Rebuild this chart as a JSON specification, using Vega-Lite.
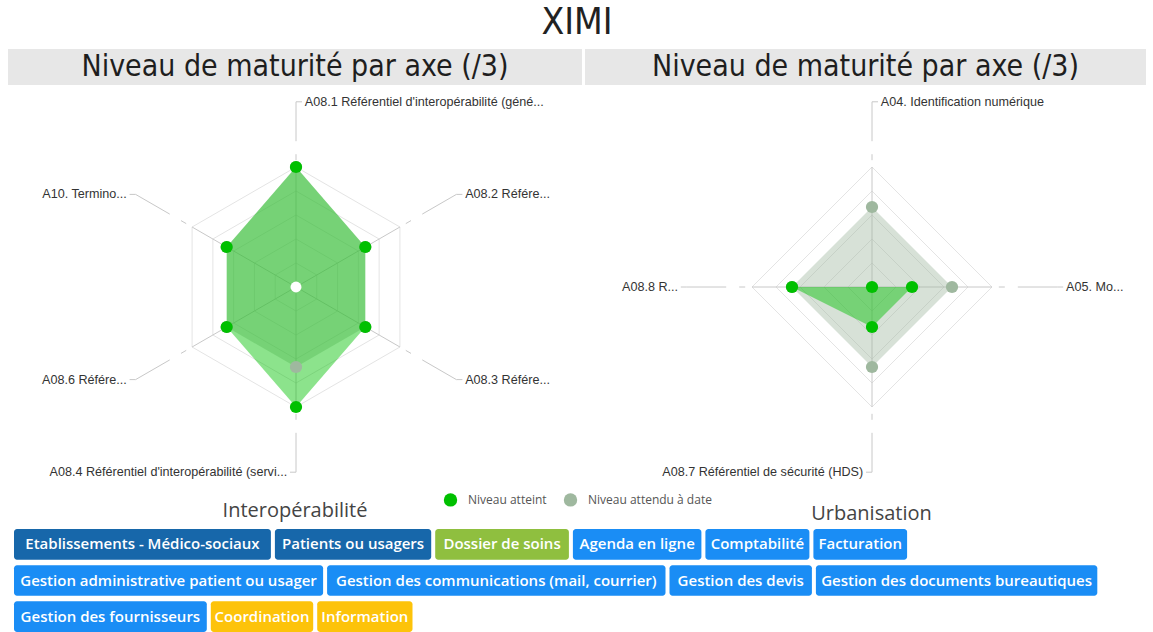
{
  "$schema": "https://vega.github.io/schema/vega-lite/v6.json",
  "padding": {"left": 8, "right": 7, "top": 4, "bottom": 0},
  "background": "white",
  "title": {"text": "XIMI", "font": "'Liberation Sans Narrow', 'DejaVu Sans Condensed', sans-serif", "fontSize": 37, "fontWeight": "normal", "color": "#222", "anchor": "middle", "offset": 7},
  "datasets": {
    "interop": [
      {"axe": "A08.1 Référentiel d'interopérabilité (géné...", "ordre": 0, "serie": "Niveau atteint", "valeur": 3},
      {"axe": "A08.2 Référe...", "ordre": 1, "serie": "Niveau atteint", "valeur": 2},
      {"axe": "A08.3 Référe...", "ordre": 2, "serie": "Niveau atteint", "valeur": 2},
      {"axe": "A08.4 Référentiel d'interopérabilité (servi...", "ordre": 3, "serie": "Niveau atteint", "valeur": 3},
      {"axe": "A08.6 Référe...", "ordre": 4, "serie": "Niveau atteint", "valeur": 2},
      {"axe": "A10. Termino...", "ordre": 5, "serie": "Niveau atteint", "valeur": 2},
      {"axe": "A08.1 Référentiel d'interopérabilité (géné...", "ordre": 0, "serie": "Niveau attendu à date", "valeur": 3},
      {"axe": "A08.2 Référe...", "ordre": 1, "serie": "Niveau attendu à date", "valeur": 2},
      {"axe": "A08.3 Référe...", "ordre": 2, "serie": "Niveau attendu à date", "valeur": 2},
      {"axe": "A08.4 Référentiel d'interopérabilité (servi...", "ordre": 3, "serie": "Niveau attendu à date", "valeur": 2},
      {"axe": "A08.6 Référe...", "ordre": 4, "serie": "Niveau attendu à date", "valeur": 2},
      {"axe": "A10. Termino...", "ordre": 5, "serie": "Niveau attendu à date", "valeur": 2}
    ],
    "urba": [
      {"axe": "A04. Identification numérique", "ordre": 0, "serie": "Niveau atteint", "valeur": 0},
      {"axe": "A05. Mo...", "ordre": 1, "serie": "Niveau atteint", "valeur": 1},
      {"axe": "A08.7 Référentiel de sécurité (HDS)", "ordre": 2, "serie": "Niveau atteint", "valeur": 1},
      {"axe": "A08.8 R...", "ordre": 3, "serie": "Niveau atteint", "valeur": 2},
      {"axe": "A04. Identification numérique", "ordre": 0, "serie": "Niveau attendu à date", "valeur": 2},
      {"axe": "A05. Mo...", "ordre": 1, "serie": "Niveau attendu à date", "valeur": 2},
      {"axe": "A08.7 Référentiel de sécurité (HDS)", "ordre": 2, "serie": "Niveau attendu à date", "valeur": 2},
      {"axe": "A08.8 R...", "ordre": 3, "serie": "Niveau attendu à date", "valeur": 2}
    ],
    "grille": [{"niveau": 0.6}, {"niveau": 1.2}, {"niveau": 1.8}, {"niveau": 2.4}, {"niveau": 3}],
    "etiquettes": [
      {"libelle": "Etablissements - Médico-sociaux", "categorie": "public", "ordre": 1},
      {"libelle": "Patients ou usagers", "categorie": "public", "ordre": 2},
      {"libelle": "Dossier de soins", "categorie": "metier", "ordre": 3},
      {"libelle": "Agenda en ligne", "categorie": "fonctionnalite", "ordre": 4},
      {"libelle": "Comptabilité", "categorie": "fonctionnalite", "ordre": 5},
      {"libelle": "Facturation", "categorie": "fonctionnalite", "ordre": 6},
      {"libelle": "Gestion administrative patient ou usager", "categorie": "fonctionnalite", "ordre": 7},
      {"libelle": "Gestion des communications (mail, courrier)", "categorie": "fonctionnalite", "ordre": 8},
      {"libelle": "Gestion des devis", "categorie": "fonctionnalite", "ordre": 9},
      {"libelle": "Gestion des documents bureautiques", "categorie": "fonctionnalite", "ordre": 10},
      {"libelle": "Gestion des fournisseurs", "categorie": "fonctionnalite", "ordre": 11},
      {"libelle": "Coordination", "categorie": "usage", "ordre": 12},
      {"libelle": "Information", "categorie": "usage", "ordre": 13}
    ]
  },
  "spacing": 2,
  "vconcat": [
    {
      "hconcat": [
        {"width": 574, "height": 36, "view": {"fill": "#e7e7e7", "stroke": null},
         "data": {"values": [{"titre": "Niveau de maturité par axe (/3)"}]},
         "mark": {"type": "text", "font": "'Liberation Sans Narrow', 'DejaVu Sans Condensed', sans-serif", "fontSize": 30, "color": "#1e1e1e"},
         "encoding": {"text": {"field": "titre", "type": "nominal"}}},
        {"width": 561, "height": 36, "view": {"fill": "#e7e7e7", "stroke": null},
         "data": {"values": [{"titre": "Niveau de maturité par axe (/3)"}]},
         "mark": {"type": "text", "font": "'Liberation Sans Narrow', 'DejaVu Sans Condensed', sans-serif", "fontSize": 30, "color": "#1e1e1e"},
         "encoding": {"text": {"field": "titre", "type": "nominal"}}}
      ],
      "spacing": 3
    },
    {
      "spacing": 5,
      "vconcat": [
        {
          "hconcat": [
            {
              "width": 574, "height": 400,
              "data": {"name": "interop"},
              "title": {"text": "Interopérabilité", "orient": "bottom", "anchor": "middle", "font": "Open Sans", "fontSize": 20, "fontWeight": "normal", "color": "#444", "offset": 14},
              "transform": [
                {"joinaggregate": [{"op": "count", "as": "n"}], "groupby": ["serie"]},
                {"calculate": "0", "as": "o"},
                {"calculate": "2*PI*datum.ordre/datum.n", "as": "a"},
                {"calculate": "datum.valeur*sin(datum.a)", "as": "px"},
                {"calculate": "datum.valeur*cos(datum.a)", "as": "py"},
                {"calculate": "3*sin(datum.a)", "as": "ex"},
                {"calculate": "3*cos(datum.a)", "as": "ey"},
                {"calculate": "3.17*sin(datum.a)", "as": "dx0"},
                {"calculate": "3.17*cos(datum.a)", "as": "dy0"},
                {"calculate": "4.63*sin(datum.a)", "as": "lx"},
                {"calculate": "4.63*cos(datum.a)", "as": "ly"},
                {"calculate": "2*datum.ordre < datum.n ? 1 : -1", "as": "sens"},
                {"calculate": "datum.lx + datum.sens*0.15", "as": "sx"},
                {"calculate": "datum.lx + datum.sens*0.22", "as": "tx"}
              ],
              "layer": [
                {"data": {"name": "grille"},
                 "transform": [{"calculate": "0", "as": "o"}],
                 "mark": {"type": "point", "shape": "M0,-1L0.866,-0.5L0.866,0.5L0,1L-0.866,0.5L-0.866,-0.5Z", "filled": false, "stroke": "#e4e4e4", "strokeWidth": 1, "opacity": 1},
                 "encoding": {
                   "x": {"field": "o", "type": "quantitative", "scale": {"domain": [-7.2, 7.15], "nice": false, "zero": false}, "axis": null},
                   "y": {"field": "o", "type": "quantitative", "scale": {"domain": [-5, 5], "nice": false, "zero": false}, "axis": null},
                   "size": {"field": "niveau", "type": "quantitative", "scale": {"type": "pow", "exponent": 2, "domain": [0, 3], "range": [0, 57600]}, "legend": null}}},
                {"transform": [{"filter": "datum.serie == 'Niveau atteint'"}],
                 "mark": {"type": "rule", "stroke": "#c8c8c8", "strokeWidth": 1},
                 "encoding": {"x": {"field": "o", "type": "quantitative", "axis": null}, "y": {"field": "o", "type": "quantitative", "axis": null}, "x2": {"field": "ex"}, "y2": {"field": "ey"}}},
                {"transform": [{"filter": "datum.serie == 'Niveau atteint'"}],
                 "mark": {"type": "rule", "stroke": "#c8c8c8", "strokeWidth": 1, "strokeDash": [6, 13, 300]},
                 "encoding": {"x": {"field": "dx0", "type": "quantitative", "axis": null}, "y": {"field": "dy0", "type": "quantitative", "axis": null}, "x2": {"field": "lx"}, "y2": {"field": "ly"}}},
                {"transform": [{"filter": "datum.serie == 'Niveau atteint'"}],
                 "mark": {"type": "rule", "stroke": "#c8c8c8", "strokeWidth": 1},
                 "encoding": {"x": {"field": "lx", "type": "quantitative", "axis": null}, "y": {"field": "ly", "type": "quantitative", "axis": null}, "x2": {"field": "sx"}}},
                {"transform": [{"filter": "datum.serie == 'Niveau atteint' && datum.sens == 1"}],
                 "mark": {"type": "text", "align": "left", "baseline": "middle", "font": "'Liberation Sans', Arial, sans-serif", "fontSize": 12.6, "color": "#333"},
                 "encoding": {"x": {"field": "tx", "type": "quantitative", "axis": null}, "y": {"field": "ly", "type": "quantitative", "axis": null}, "text": {"field": "axe", "type": "nominal"}}},
                {"transform": [{"filter": "datum.serie == 'Niveau atteint' && datum.sens == -1"}],
                 "mark": {"type": "text", "align": "right", "baseline": "middle", "font": "'Liberation Sans', Arial, sans-serif", "fontSize": 12.6, "color": "#333"},
                 "encoding": {"x": {"field": "tx", "type": "quantitative", "axis": null}, "y": {"field": "ly", "type": "quantitative", "axis": null}, "text": {"field": "axe", "type": "nominal"}}},
                {"transform": [{"filter": "datum.serie == 'Niveau attendu à date'"}],
                 "mark": {"type": "line", "interpolate": "linear-closed", "fill": "#9fb89f", "fillOpacity": 0.42, "strokeWidth": 0},
                 "encoding": {"x": {"field": "px", "type": "quantitative", "axis": null}, "y": {"field": "py", "type": "quantitative", "axis": null}, "order": {"field": "ordre", "type": "quantitative"}}},
                {"transform": [{"filter": "datum.serie == 'Niveau atteint'"}],
                 "mark": {"type": "line", "interpolate": "linear-closed", "fill": "#00c000", "fillOpacity": 0.45, "strokeWidth": 0},
                 "encoding": {"x": {"field": "px", "type": "quantitative", "axis": null}, "y": {"field": "py", "type": "quantitative", "axis": null}, "order": {"field": "ordre", "type": "quantitative"}}},
                {"transform": [{"filter": "datum.serie == 'Niveau attendu à date'"}],
                 "mark": {"type": "point", "filled": true, "opacity": 1, "size": 150},
                 "encoding": {"x": {"field": "px", "type": "quantitative", "axis": null}, "y": {"field": "py", "type": "quantitative", "axis": null}, "color": {"field": "serie", "type": "nominal"}}},
                {"transform": [{"filter": "datum.serie == 'Niveau atteint'"}],
                 "mark": {"type": "point", "filled": true, "opacity": 1, "size": 150},
                 "encoding": {"x": {"field": "px", "type": "quantitative", "axis": null}, "y": {"field": "py", "type": "quantitative", "axis": null},
                   "color": {"field": "serie", "type": "nominal", "scale": {"domain": ["Niveau atteint", "Niveau attendu à date"], "range": ["#00c000", "#9fb89f"]}}}},
                {"transform": [{"filter": "datum.serie == 'Niveau atteint' && datum.ordre == 0"}],
                 "mark": {"type": "point", "filled": true, "opacity": 1, "size": 120, "fill": "white"},
                 "encoding": {"x": {"field": "o", "type": "quantitative", "axis": null}, "y": {"field": "o", "type": "quantitative", "axis": null}}}
              ]
            },
            {
              "width": 561, "height": 400,
              "data": {"name": "urba"},
              "title": {"text": "Urbanisation", "orient": "bottom", "anchor": "middle", "font": "Open Sans", "fontSize": 20, "fontWeight": "normal", "color": "#444", "offset": 17, "dx": 6},
              "transform": [
                {"joinaggregate": [{"op": "count", "as": "n"}], "groupby": ["serie"]},
                {"calculate": "0", "as": "o"},
                {"calculate": "2*PI*datum.ordre/datum.n", "as": "a"},
                {"calculate": "datum.valeur*sin(datum.a)", "as": "px"},
                {"calculate": "datum.valeur*cos(datum.a)", "as": "py"},
                {"calculate": "3*sin(datum.a)", "as": "ex"},
                {"calculate": "3*cos(datum.a)", "as": "ey"},
                {"calculate": "3.17*sin(datum.a)", "as": "dx0"},
                {"calculate": "3.17*cos(datum.a)", "as": "dy0"},
                {"calculate": "4.63*sin(datum.a)", "as": "lx"},
                {"calculate": "4.63*cos(datum.a)", "as": "ly"},
                {"calculate": "2*datum.ordre < datum.n ? 1 : -1", "as": "sens"},
                {"calculate": "datum.lx + datum.sens*0.15", "as": "sx"},
                {"calculate": "datum.lx + datum.sens*0.22", "as": "tx"}
              ],
              "layer": [
                {"data": {"name": "grille"},
                 "transform": [{"calculate": "0", "as": "o"}],
                 "mark": {"type": "point", "shape": "M0,-1L1,0L0,1L-1,0Z", "filled": false, "stroke": "#e4e4e4", "strokeWidth": 1, "opacity": 1},
                 "encoding": {
                   "x": {"field": "o", "type": "quantitative", "scale": {"domain": [-7.175, 6.85], "nice": false, "zero": false}, "axis": null},
                   "y": {"field": "o", "type": "quantitative", "scale": {"domain": [-5, 5], "nice": false, "zero": false}, "axis": null},
                   "size": {"field": "niveau", "type": "quantitative", "scale": {"type": "pow", "exponent": 2, "domain": [0, 3], "range": [0, 57600]}, "legend": null}}},
                {"transform": [{"filter": "datum.serie == 'Niveau atteint'"}],
                 "mark": {"type": "rule", "stroke": "#c8c8c8", "strokeWidth": 1},
                 "encoding": {"x": {"field": "o", "type": "quantitative", "axis": null}, "y": {"field": "o", "type": "quantitative", "axis": null}, "x2": {"field": "ex"}, "y2": {"field": "ey"}}},
                {"transform": [{"filter": "datum.serie == 'Niveau atteint'"}],
                 "mark": {"type": "rule", "stroke": "#c8c8c8", "strokeWidth": 1, "strokeDash": [6, 13, 300]},
                 "encoding": {"x": {"field": "dx0", "type": "quantitative", "axis": null}, "y": {"field": "dy0", "type": "quantitative", "axis": null}, "x2": {"field": "lx"}, "y2": {"field": "ly"}}},
                {"transform": [{"filter": "datum.serie == 'Niveau atteint'"}],
                 "mark": {"type": "rule", "stroke": "#c8c8c8", "strokeWidth": 1},
                 "encoding": {"x": {"field": "lx", "type": "quantitative", "axis": null}, "y": {"field": "ly", "type": "quantitative", "axis": null}, "x2": {"field": "sx"}}},
                {"transform": [{"filter": "datum.serie == 'Niveau atteint' && datum.sens == 1"}],
                 "mark": {"type": "text", "align": "left", "baseline": "middle", "font": "'Liberation Sans', Arial, sans-serif", "fontSize": 12.6, "color": "#333"},
                 "encoding": {"x": {"field": "tx", "type": "quantitative", "axis": null}, "y": {"field": "ly", "type": "quantitative", "axis": null}, "text": {"field": "axe", "type": "nominal"}}},
                {"transform": [{"filter": "datum.serie == 'Niveau atteint' && datum.sens == -1"}],
                 "mark": {"type": "text", "align": "right", "baseline": "middle", "font": "'Liberation Sans', Arial, sans-serif", "fontSize": 12.6, "color": "#333"},
                 "encoding": {"x": {"field": "tx", "type": "quantitative", "axis": null}, "y": {"field": "ly", "type": "quantitative", "axis": null}, "text": {"field": "axe", "type": "nominal"}}},
                {"transform": [{"filter": "datum.serie == 'Niveau attendu à date'"}],
                 "mark": {"type": "line", "interpolate": "linear-closed", "fill": "#9fb89f", "fillOpacity": 0.42, "strokeWidth": 0},
                 "encoding": {"x": {"field": "px", "type": "quantitative", "axis": null}, "y": {"field": "py", "type": "quantitative", "axis": null}, "order": {"field": "ordre", "type": "quantitative"}}},
                {"transform": [{"filter": "datum.serie == 'Niveau atteint'"}],
                 "mark": {"type": "line", "interpolate": "linear-closed", "fill": "#00c000", "fillOpacity": 0.45, "strokeWidth": 0},
                 "encoding": {"x": {"field": "px", "type": "quantitative", "axis": null}, "y": {"field": "py", "type": "quantitative", "axis": null}, "order": {"field": "ordre", "type": "quantitative"}}},
                {"transform": [{"filter": "datum.serie == 'Niveau attendu à date'"}],
                 "mark": {"type": "point", "filled": true, "opacity": 1, "size": 150},
                 "encoding": {"x": {"field": "px", "type": "quantitative", "axis": null}, "y": {"field": "py", "type": "quantitative", "axis": null}, "color": {"field": "serie", "type": "nominal"}}},
                {"transform": [{"filter": "datum.serie == 'Niveau atteint'"}],
                 "mark": {"type": "point", "filled": true, "opacity": 1, "size": 150},
                 "encoding": {"x": {"field": "px", "type": "quantitative", "axis": null}, "y": {"field": "py", "type": "quantitative", "axis": null}, "color": {"field": "serie", "type": "nominal"}}}
              ]
            }
          ],
          "spacing": 3
        },
        {
          "width": 1138, "height": 103,
          "data": {"name": "etiquettes"},
          "transform": [
            {"calculate": "length(datum.libelle)", "as": "nb"},
            {"calculate": "length(replace(datum.libelle, regexp(\"[ilIjtfr .,()'-]\", \"g\"), \"\"))", "as": "nonetroit"},
            {"calculate": "datum.nb - length(replace(datum.libelle, regexp(\"[mMwW]\", \"g\"), \"\"))", "as": "large"},
            {"calculate": "5.2*(datum.nb - datum.nonetroit) + 8.7*(datum.nonetroit - datum.large) + 13.8*datum.large + 12", "as": "w"},
            {"calculate": "datum.w + 4", "as": "wg"},
            {"window": [{"op": "sum", "field": "wg", "as": "cumfin"}], "sort": [{"field": "ordre"}], "frame": [null, 0]},
            {"calculate": "datum.cumfin - datum.wg", "as": "cumdebut"},
            {"calculate": "datum.cumfin - 4 <= 1132 ? 1 : 0", "as": "l1"},
            {"calculate": "datum.l1 == 1 ? 1e9 : datum.cumdebut", "as": "d2"},
            {"joinaggregate": [{"op": "min", "field": "d2", "as": "s2"}]},
            {"calculate": "datum.l1 == 1 ? 1 : (datum.cumfin - 4 - datum.s2 <= 1132 ? 2 : 3)", "as": "ligne"},
            {"calculate": "datum.ligne == 3 ? datum.cumdebut : 1e9", "as": "d3"},
            {"joinaggregate": [{"op": "min", "field": "d3", "as": "s3"}]},
            {"calculate": "datum.ligne == 1 ? datum.cumdebut : (datum.ligne == 2 ? datum.cumdebut - datum.s2 : datum.cumdebut - datum.s3)", "as": "debut"},
            {"calculate": "datum.debut + datum.w", "as": "fin"},
            {"calculate": "datum.debut + datum.w/2", "as": "centre"}
          ],
          "layer": [
            {"mark": {"type": "rect", "cornerRadius": 3},
             "encoding": {
               "x": {"field": "debut", "type": "quantitative", "scale": {"domain": [-6, 1132], "nice": false, "zero": false}, "axis": null},
               "x2": {"field": "fin"},
               "y": {"field": "ligne", "type": "ordinal", "scale": {"paddingInner": 0.15, "paddingOuter": 0}, "axis": null},
               "fill": {"field": "categorie", "type": "nominal", "scale": {"domain": ["public", "metier", "fonctionnalite", "usage"], "range": ["#1767aa", "#8fbf3f", "#1a8df5", "#fdc30a"]}, "legend": null}}},
            {"mark": {"type": "text", "fill": "white", "font": "Open Sans", "fontWeight": 600, "fontSize": 15},
             "encoding": {
               "x": {"field": "centre", "type": "quantitative", "axis": null},
               "y": {"field": "ligne", "type": "ordinal", "axis": null},
               "text": {"field": "libelle", "type": "nominal"}}}
          ]
        }
      ]
    }
  ],
  "config": {
    "view": {"stroke": null},
    "legend": {"orient": "none", "legendX": 435, "legendY": 443, "direction": "horizontal", "title": null, "symbolType": "circle", "symbolSize": 180, "symbolOpacity": 1, "labelFont": "Open Sans", "labelFontSize": 12, "labelColor": "#555", "labelOffset": 10, "columnPadding": 16, "padding": 0}
  }
}
